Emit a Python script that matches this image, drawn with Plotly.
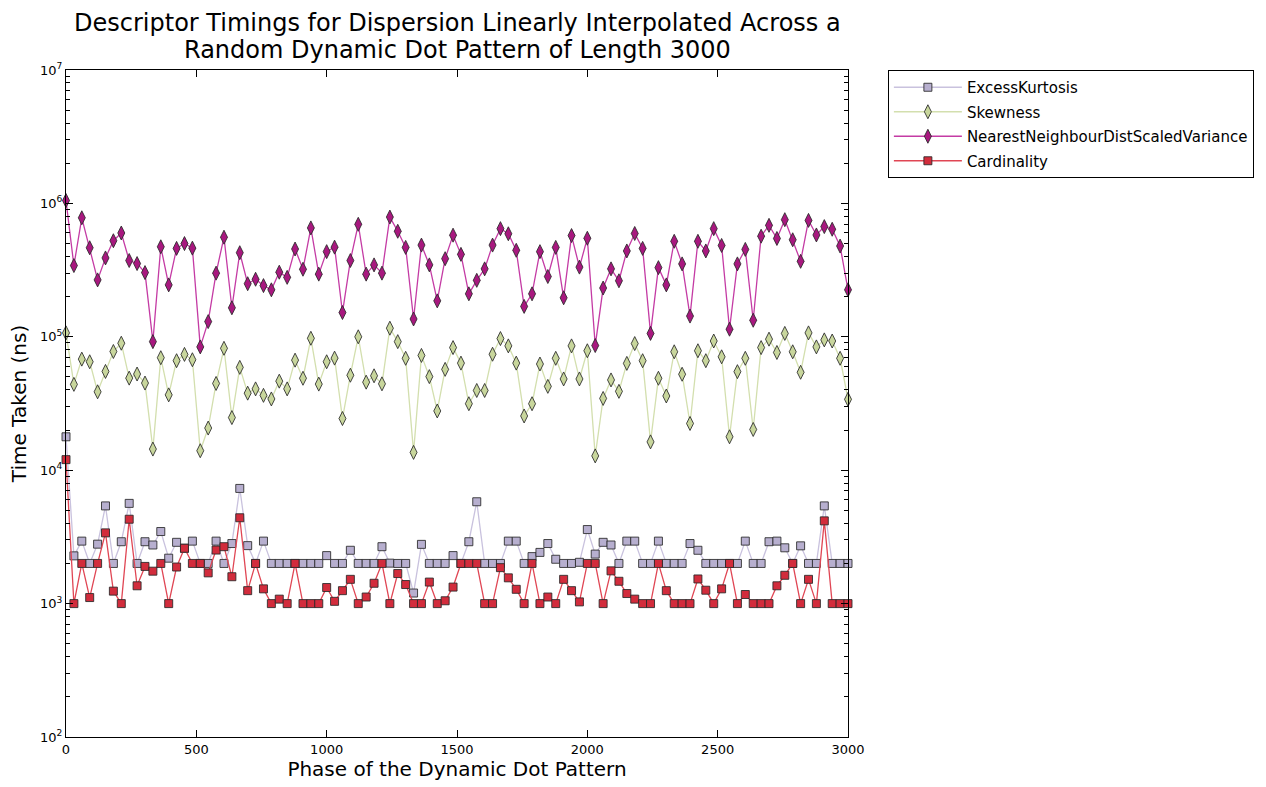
import numpy as np
import plotly.graph_objects as go

# Phase positions of the dynamic dot pattern (100 samples across 0..3000)
phase = np.linspace(0, 3000, 100)

excess_kurtosis = [
    1.78e4, 2.28e3, 2.94e3, 2.0e3, 2.79e3, 5.4e3, 2.0e3, 2.91e3, 5.64e3, 2.0e3,
    2.91e3, 2.75e3, 3.47e3, 2.19e3, 2.88e3, 2.6e3, 2.94e3, 2.0e3, 2.0e3, 2.94e3,
    2.0e3, 2.82e3, 7.3e3, 2.72e3, 2.0e3, 2.94e3, 2.0e3, 2.0e3, 2.0e3, 2.0e3,
    2.0e3, 2.0e3, 2.0e3, 2.29e3, 2.0e3, 2.0e3, 2.51e3, 2.0e3, 2.0e3, 2.0e3,
    2.67e3, 2.01e3, 2.0e3, 2.0e3, 1.2e3, 2.78e3, 2.0e3, 2.0e3, 2.0e3, 2.29e3,
    2.0e3, 2.91e3, 5.8e3, 2.0e3, 2.0e3, 2.0e3, 2.94e3, 2.94e3, 2.0e3, 2.25e3,
    2.42e3, 2.82e3, 2.15e3, 2.0e3, 2.0e3, 2.04e3, 3.59e3, 2.35e3, 2.88e3, 2.75e3,
    2.0e3, 2.94e3, 2.94e3, 2.0e3, 2.0e3, 2.94e3, 2.0e3, 2.0e3, 2.0e3, 2.82e3,
    2.51e3, 2.0e3, 2.0e3, 2.0e3, 2.0e3, 2.0e3, 2.94e3, 2.0e3, 2.0e3, 2.91e3,
    2.94e3, 2.62e3, 2.0e3, 2.71e3, 2.0e3, 2.0e3, 5.4e3, 2.0e3, 2.0e3, 2.0e3,
]

skewness = [
    1.07e5, 4.4e4, 6.8e4, 6.5e4, 3.87e4, 5.5e4, 7.76e4, 8.95e4, 4.9e4, 5.26e4,
    4.5e4, 1.44e4, 6.97e4, 3.67e4, 6.62e4, 7.38e4, 6.73e4, 1.4e4, 2.07e4, 4.47e4,
    8.2e4, 2.48e4, 5.9e4, 3.78e4, 4.07e4, 3.64e4, 3.42e4, 4.65e4, 4.07e4, 6.68e4,
    4.89e4, 9.75e4, 4.42e4, 6.5e4, 6.92e4, 2.44e4, 5.15e4, 1.0e5, 4.57e4, 5.1e4,
    4.44e4, 1.16e5, 9.2e4, 6.9e4, 1.36e4, 7.25e4, 5.03e4, 2.78e4, 5.7e4, 8.3e4,
    6.35e4, 3.15e4, 3.96e4, 3.96e4, 7.4e4, 9.7e4, 8.55e4, 6.35e4, 2.55e4, 3.15e4,
    6.25e4, 4.25e4, 6.9e4, 4.83e4, 8.55e4, 4.83e4, 7.86e4, 1.28e4, 3.45e4, 4.75e4,
    3.9e4, 6.32e4, 8.9e4, 6.62e4, 1.63e4, 4.89e4, 3.6e4, 7.72e4, 5.24e4, 2.24e4,
    7.86e4, 6.62e4, 9.3e4, 7.08e4, 1.78e4, 5.48e4, 6.9e4, 2.02e4, 8.3e4, 9.6e4,
    7.63e4, 1.06e5, 7.72e4, 5.42e4, 1.07e5, 8.4e4, 9.48e4, 9.3e4, 6.9e4, 3.4e4,
]

nn_dist_scaled_variance = [
    1.05e6, 3.42e5, 7.8e5, 4.65e5, 2.67e5, 3.9e5, 5.25e5, 6.0e5, 3.73e5, 3.54e5,
    3.03e5, 9.2e4, 4.73e5, 2.45e5, 4.6e5, 5.0e5, 4.62e5, 8.4e4, 1.3e5, 3.0e5,
    5.58e5, 1.65e5, 4.27e5, 2.5e5, 2.7e5, 2.42e5, 2.25e5, 3.05e5, 2.79e5, 4.55e5,
    3.21e5, 6.55e5, 2.95e5, 4.35e5, 4.7e5, 1.52e5, 3.73e5, 6.97e5, 2.95e5, 3.46e5,
    3.0e5, 7.9e5, 6.18e5, 4.68e5, 1.36e5, 4.87e5, 3.46e5, 1.86e5, 3.85e5, 5.78e5,
    4.15e5, 2.1e5, 2.65e5, 3.23e5, 4.87e5, 6.47e5, 5.92e5, 4.45e5, 1.69e5, 2.1e5,
    4.35e5, 2.83e5, 4.68e5, 1.96e5, 5.74e5, 3.33e5, 5.48e5, 8.6e4, 2.32e5, 3.23e5,
    2.63e5, 4.4e5, 5.95e5, 4.6e5, 1.06e5, 3.3e5, 2.45e5, 5.2e5, 3.52e5, 1.43e5,
    5.2e5, 4.4e5, 6.47e5, 4.84e5, 1.14e5, 3.52e5, 4.52e5, 1.33e5, 5.68e5, 6.85e5,
    5.46e5, 7.55e5, 5.34e5, 3.68e5, 7.46e5, 5.8e5, 6.7e5, 6.4e5, 4.79e5, 2.25e5,
]

cardinality = [
    1.2e4, 1.0e3, 2.0e3, 1.11e3, 2.0e3, 3.39e3, 1.24e3, 1.0e3, 4.29e3, 1.36e3,
    1.9e3, 1.75e3, 2.0e3, 1.0e3, 1.88e3, 2.6e3, 2.0e3, 2.0e3, 1.7e3, 2.52e3,
    2.67e3, 1.59e3, 4.4e3, 1.25e3, 2.0e3, 1.29e3, 1.0e3, 1.08e3, 1.0e3, 2.0e3,
    1.0e3, 1.0e3, 1.0e3, 1.32e3, 1.04e3, 1.25e3, 1.52e3, 1.0e3, 1.12e3, 1.42e3,
    2.0e3, 1.0e3, 1.68e3, 1.39e3, 1.0e3, 1.0e3, 1.45e3, 1.0e3, 1.05e3, 1.33e3,
    2.0e3, 2.0e3, 2.0e3, 1.0e3, 1.0e3, 1.86e3, 1.56e3, 1.28e3, 1.0e3, 2.0e3,
    1.0e3, 1.12e3, 1.0e3, 1.52e3, 1.25e3, 1.03e3, 2.0e3, 2.0e3, 1.0e3, 1.76e3,
    1.47e3, 1.19e3, 1.08e3, 1.0e3, 1.0e3, 2.0e3, 1.25e3, 1.0e3, 1.0e3, 1.0e3,
    1.53e3, 1.26e3, 1.0e3, 1.29e3, 2.0e3, 1.0e3, 1.17e3, 1.0e3, 1.0e3, 1.0e3,
    1.36e3, 1.63e3, 2.0e3, 1.0e3, 1.52e3, 1.0e3, 4.17e3, 1.0e3, 1.0e3, 1.0e3,
]

y_tick_vals = [1e2, 1e3, 1e4, 1e5, 1e6, 1e7]
y_tick_text = ["10<sup>2</sup>", "10<sup>3</sup>", "10<sup>4</sup>",
               "10<sup>5</sup>", "10<sup>6</sup>", "10<sup>7</sup>"]
x_tick_vals = [0, 500, 1000, 1500, 2000, 2500, 3000]

title_lines = [
    "Descriptor Timings for Dispersion Linearly Interpolated Across a",
    "Random Dynamic Dot Pattern of Length 3000",
]

series = [
    ("ExcessKurtosis", excess_kurtosis, "#b7afcf", "#c9c2de", "square", 8),
    ("Skewness", skewness, "#c8d69c", "#d3dfae", "diamond-tall", 10),
    ("NearestNeighbourDistScaledVariance", nn_dist_scaled_variance,
     "#a8187f", "#c43ba4", "diamond-tall", 10),
    ("Cardinality", cardinality, "#d22c3c", "#e04654", "square", 8),
]

fig = go.Figure()
for name, vals, mcol, lcol, sym, size in series:
    fig.add_trace(go.Scatter(
        x=phase, y=vals, name=name, mode="lines+markers", legendgroup=name,
        line=dict(color=lcol, width=1.3),
        marker=dict(symbol=sym, size=size, color=mcol,
                    line=dict(color="rgba(40,40,40,0.85)", width=1)),
        cliponaxis=False,
    ))

minor_vals = [m * 10 ** e for e in range(2, 7) for m in range(2, 10)]

axis_common = dict(
    showline=True, linecolor="black", linewidth=1, mirror="ticks",
    ticks="inside", tickcolor="black", showgrid=False, zeroline=False,
    tickfont=dict(family="DejaVu Sans", size=13, color="black"),
)

fig.update_xaxes(
    range=[0, 3000], tickvals=x_tick_vals, ticklen=7,
    title=dict(text="Phase of the Dynamic Dot Pattern",
               font=dict(family="DejaVu Sans", size=20, color="black"),
               standoff=4),
    **axis_common,
)
fig.update_yaxes(
    type="log", range=[2, 7], tickvals=y_tick_vals, ticktext=y_tick_text,
    ticklen=7,
    minor=dict(tickvals=minor_vals, ticks="inside", ticklen=4,
               tickcolor="black", showgrid=False),
    title=dict(text="Time Taken (ns)",
               font=dict(family="DejaVu Sans", size=20, color="black"),
               standoff=8),
    **axis_common,
)

# Two-line title drawn as annotations centred over the plot area
for line, ypos in zip(title_lines, [1.0698, 1.0297]):
    fig.add_annotation(
        text=line, xref="paper", yref="paper", x=0.5, y=ypos,
        xanchor="center", yanchor="middle", showarrow=False,
        font=dict(family="DejaVu Sans", size=24, color="black"),
    )

fig.update_layout(
    width=1266, height=787,
    margin=dict(l=66, r=418, t=70, b=44),
    paper_bgcolor="white", plot_bgcolor="white",
    legend=dict(
        x=1.051, y=1.0, xanchor="left", yanchor="top",
        bordercolor="black", borderwidth=1, bgcolor="white",
        font=dict(family="DejaVu Sans", size=15, color="black"),
        tracegroupgap=2, itemwidth=68,
    ),
    showlegend=True,
)

fig.write_html("out.html")
